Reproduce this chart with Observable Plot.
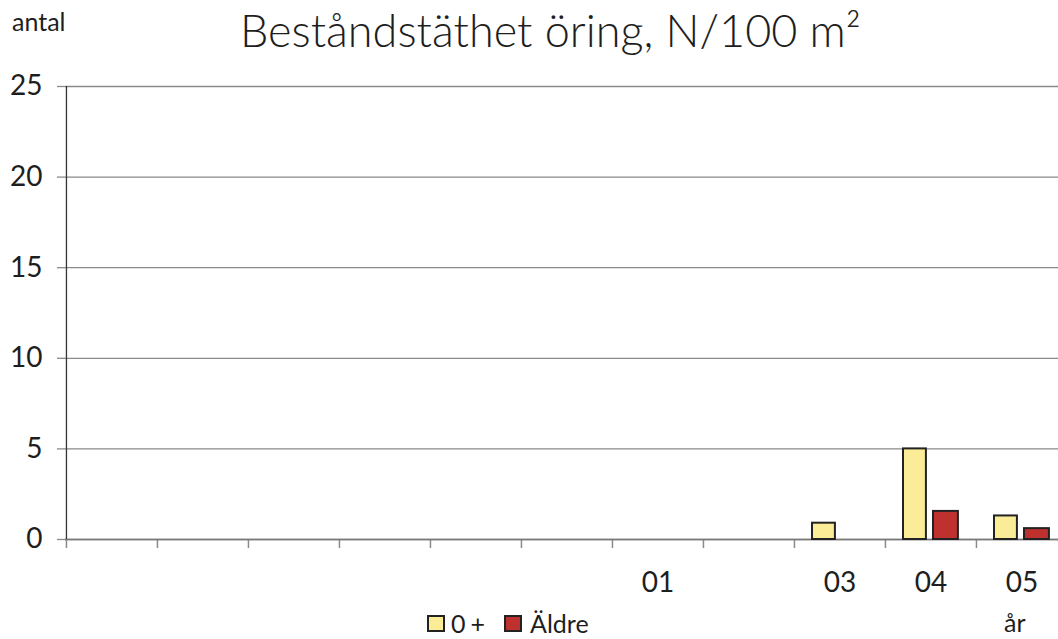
<!DOCTYPE html>
<html>
<head>
<meta charset="utf-8">
<script src="https://cdn.jsdelivr.net/npm/d3@7"></script>
<script src="https://cdn.jsdelivr.net/npm/@observablehq/plot@0.6"></script>
<style>
  html, body { margin: 0; padding: 0; background: #fff; overflow: hidden; }
  #wrap { position: relative; width: 1058px; height: 639px; overflow: hidden; font-family: Lato, "Noto Sans", sans-serif; color: #1e1e1e; }
  #title { position: absolute; left: 240px; top: 3px; font-size: 45px; font-weight: 300; white-space: nowrap; line-height: 1.2; }
  #ylab { position: absolute; left: 12px; top: 6px; font-size: 25px; line-height: 1.2; }
  #legend { position: absolute; left: 427px; top: 608px; font-size: 25px; line-height: 1.2; display: flex; align-items: center; white-space: nowrap; }
  #legend .sw { display: inline-block; box-sizing: border-box; width: 18px; height: 17px; border: 2px solid #222; margin-right: 6px; }
  #xlab { position: absolute; left: 1004px; top: 607px; font-size: 25px; line-height: 1.2; }
  #chart { position: absolute; left: 0; top: 0; }
  #chart svg { max-width: none !important; }
</style>
</head>
<body>
<div id="wrap">
  <div id="chart"></div>
  <div id="title">Beståndstäthet öring, N/100 m²</div>
  <div id="ylab">antal</div>
  <div id="legend"></div>
  <div id="xlab">år</div>
</div>
<script>
// --- data ---
const categories = ["k1","k2","k3","k4","k5","k6","k7","k8","k9","k10","k11"];
const tickLabels = ["", "", "", "", "", "", "01", "", "03", "04", "05"];
const series = ["0+", "Äldre"];
const youngValues = [null, null, null, null, null, null, null, null, 0.9, 5.0, 1.3];
const olderValues = [null, null, null, null, null, null, null, null, null, 1.55, 0.6];
const yTicks = [0, 5, 10, 15, 20, 25];
const colors = ["#fbec97", "#bf312e"];

const labelOf = new Map(categories.map((c, i) => [c, tickLabels[i]]));
const young = categories.map((c, i) => ({cat: c, v: youngValues[i]})).filter(d => d.v != null);
const older = categories.map((c, i) => ({cat: c, v: olderValues[i]})).filter(d => d.v != null);

const W = 1067, H = 639, ML = 65, MR = 0;
const bw = (W - ML - MR) / categories.length;

const chart = Plot.plot({
  width: W,
  height: H,
  marginTop: 86,
  marginBottom: 100,
  marginLeft: ML,
  marginRight: MR,
  style: {fontFamily: "Lato, 'Noto Sans', sans-serif", color: "#1e1e1e", background: "#fff", maxWidth: "none"},
  x: {type: "band", domain: categories, padding: 0},
  y: {domain: [0, 25]},
  marks: [
    Plot.gridY(yTicks, {stroke: "#8a8a8a", strokeOpacity: 1, strokeWidth: 1.3}),
    Plot.axisY(yTicks, {tickSize: 8, tickPadding: 15, fontSize: 28, stroke: "#8a8a8a", strokeWidth: 1.3, label: null}),
    Plot.ruleX(categories, {x: d => d, dx: -bw / 2, y1: 0, y2: 0, insetBottom: -9, stroke: "#8a8a8a", strokeWidth: 1.5}),
    Plot.axisX(categories, {tickSize: 0, tickPadding: 33, fontSize: 28, tickFormat: d => labelOf.get(d), label: null}),
    Plot.ruleY([0], {stroke: "#777", strokeWidth: 1.5}),
    Plot.ruleX([categories[0]], {x: d => d, dx: -bw / 2, y1: 0, y2: 25, stroke: "#333", strokeWidth: 1.3}),
    Plot.barY(young, {x: "cat", y: "v", fill: colors[0], stroke: "#222", strokeWidth: 2, insetLeft: 18, insetRight: bw - 41}),
    Plot.barY(older, {x: "cat", y: "v", fill: colors[1], stroke: "#222", strokeWidth: 2, insetLeft: 48, insetRight: bw - 73})
  ]
});
document.getElementById("chart").appendChild(chart);

const legend = document.getElementById("legend");
series.forEach((s, i) => {
  const sw = document.createElement("span");
  sw.className = "sw";
  sw.style.background = colors[i];
  const t = document.createElement("span");
  t.textContent = s;
  if (i === 0) { t.style.letterSpacing = "5px"; t.style.marginRight = "14px"; }
  if (i === 1) sw.style.marginRight = "8px";
  legend.appendChild(sw);
  legend.appendChild(t);
});
</script>
</body>
</html>
